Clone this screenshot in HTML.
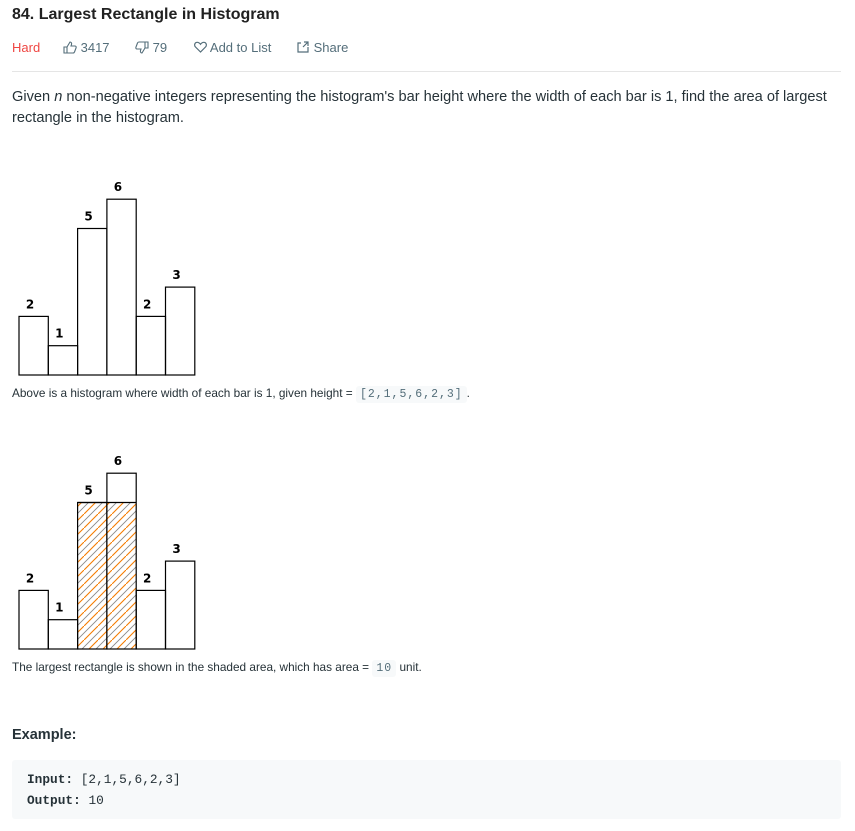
<!DOCTYPE html>
<html><head><meta charset="utf-8">
<style>
body{margin:0;width:855px;height:831px;background:#fff;font-family:"Liberation Sans",sans-serif;color:#263238;position:relative;overflow:hidden}
.abs{position:absolute}
.t{font-size:16px;font-weight:bold;left:12px;top:6px;color:#212121}
.meta{top:40px;font-size:13px;color:#546e7a}
.para{left:12px;font-size:14.6px;line-height:21px;color:#263238}
.small{left:12px;font-size:11.8px;color:#263238}
code{font-family:"Liberation Mono",monospace;background:#f7f9fa;color:#546e7a;padding:2px 4px;border-radius:3px;font-size:11.5px;letter-spacing:1px}
</style></head><body>
<div class="abs t">84. Largest Rectangle in Histogram</div>
<div class="abs meta" style="left:12px;color:#ef4743">Hard</div>
<div class="abs meta" style="left:63px">
<svg width="14" height="13" viewBox="0 0 14 13" style="vertical-align:-2px"><path d="M1 6h3v6H1zM4 6l3-5c1 0 2 1 1.5 2.5L8 5h4c1 0 1.5 1 1 2l-1.5 4c-.3.7-.8 1-1.5 1H4" fill="none" stroke="#546e7a" stroke-width="1.1"/></svg> 3417</div>
<div class="abs meta" style="left:135px">
<svg width="14" height="13" viewBox="0 0 14 13" style="vertical-align:-2px"><g transform="rotate(180 7 6.5)"><path d="M1 6h3v6H1zM4 6l3-5c1 0 2 1 1.5 2.5L8 5h4c1 0 1.5 1 1 2l-1.5 4c-.3.7-.8 1-1.5 1H4" fill="none" stroke="#546e7a" stroke-width="1.1"/></g></svg> 79</div>
<div class="abs meta" style="left:194px">
<svg width="13" height="12" viewBox="0 0 13 12" style="vertical-align:-1px"><path d="M6.5 11L1.5 6C0 4.5 0.5 1.5 3 1.3c1.5-.1 2.8 1 3.5 2 .7-1 2-2.1 3.5-2 2.5.2 3 3.2 1.5 4.7z" fill="none" stroke="#546e7a" stroke-width="1.2"/></svg> Add to List</div>
<div class="abs meta" style="left:297px">
<svg width="13" height="12" viewBox="0 0 13 12" style="vertical-align:-1px"><path d="M4 2H1v9h10V6M7 1h4v4M11 1L6 6" fill="none" stroke="#546e7a" stroke-width="1.2"/></svg> Share</div>
<div class="abs" style="left:12px;top:71px;width:829px;height:1px;background:#e5e5e5"></div>
<div class="abs para" style="top:87px;width:835px">Given <i>n</i> non-negative integers representing the histogram's bar height where the width of each bar is 1, find the area of largest rectangle in the histogram.</div>

<svg class="abs" id="h1" style="left:0;top:170px" width="220" height="215"></svg>
<div class="abs small" style="top:386px">Above is a histogram where width of each bar is 1, given height = <code>[2,1,5,6,2,3]</code>.</div>

<svg class="abs" id="h2" style="left:0;top:444px" width="220" height="215">
<defs><pattern id="hatch" width="14" height="14" patternUnits="userSpaceOnUse">
<path d="M-1,15 L15,-1" stroke="#f57c00" stroke-width="1.1"/>
<path d="M-8,15 L8,-1 M6,15 L22,-1" stroke="#8a8a8a" stroke-width="0.9"/></pattern></defs></svg>
<div class="abs small" style="top:660px">The largest rectangle is shown in the shaded area, which has area = <code>10</code> unit.</div>

<div class="abs" style="left:12px;top:727px;font-size:14.5px;font-weight:bold;color:#263238">Example:</div>
<div class="abs" style="left:12px;top:760px;width:829px;height:59px;background:#f7f9fa;border-radius:3px">
<pre style="margin:0;padding:9px 15px;font-family:'Liberation Mono',monospace;font-size:12.8px;line-height:21px;color:#263238"><b>Input:</b> [2,1,5,6,2,3]
<b>Output:</b> 10</pre></div>

<script>
const heights=[2,1,5,6,2,3];
const labels=["2","1","5","6","2","3"];
const shadeStart=2, shadeEnd=3, shadeHeight=5;
const NS="http://www.w3.org/2000/svg";
const x0=19,bw=29.3,unit=29.3;
function xs(i){return x0+i*bw;}
function ys(v,base){return base-v*unit;}
function draw(svg,base,shade){
  if(shade){
    const r=document.createElementNS(NS,"rect");
    
    
    r.setAttribute("x",xs(shadeStart));r.setAttribute("y",ys(shadeHeight,base));
    r.setAttribute("width",(shadeEnd-shadeStart+1)*bw);r.setAttribute("height",shadeHeight*unit);
    r.setAttribute("fill","url(#hatch)");svg.appendChild(r);
  }
  heights.forEach((h,i)=>{
    const r=document.createElementNS(NS,"rect");
    
    
    r.setAttribute("x",xs(i));r.setAttribute("y",ys(h,base));
    r.setAttribute("width",bw);r.setAttribute("height",h*unit);
    r.setAttribute("fill","none");r.setAttribute("stroke","#000");r.setAttribute("stroke-width","1.2");
    svg.appendChild(r);
    const t=document.createElementNS(NS,"text");
    
    
    t.setAttribute("x",xs(i)+11);t.setAttribute("y",ys(h,base)-8);
    t.setAttribute("text-anchor","middle");t.setAttribute("font-family","DejaVu Sans, sans-serif");
    t.setAttribute("font-size","12");t.setAttribute("font-weight","bold");t.setAttribute("fill","#000");t.textContent=labels[i];
    svg.appendChild(t);
  });
  if(shade){
    const l=document.createElementNS(NS,"line");
    
    
    l.setAttribute("x1",xs(shadeStart));l.setAttribute("x2",xs(shadeEnd+1));
    l.setAttribute("y1",ys(shadeHeight,base));l.setAttribute("y2",ys(shadeHeight,base));
    l.setAttribute("stroke","#000");l.setAttribute("stroke-width","1.2");svg.appendChild(l);
  }
}
draw(document.getElementById("h1"),205,false);
draw(document.getElementById("h2"),205,true);
</script>
</body></html>
